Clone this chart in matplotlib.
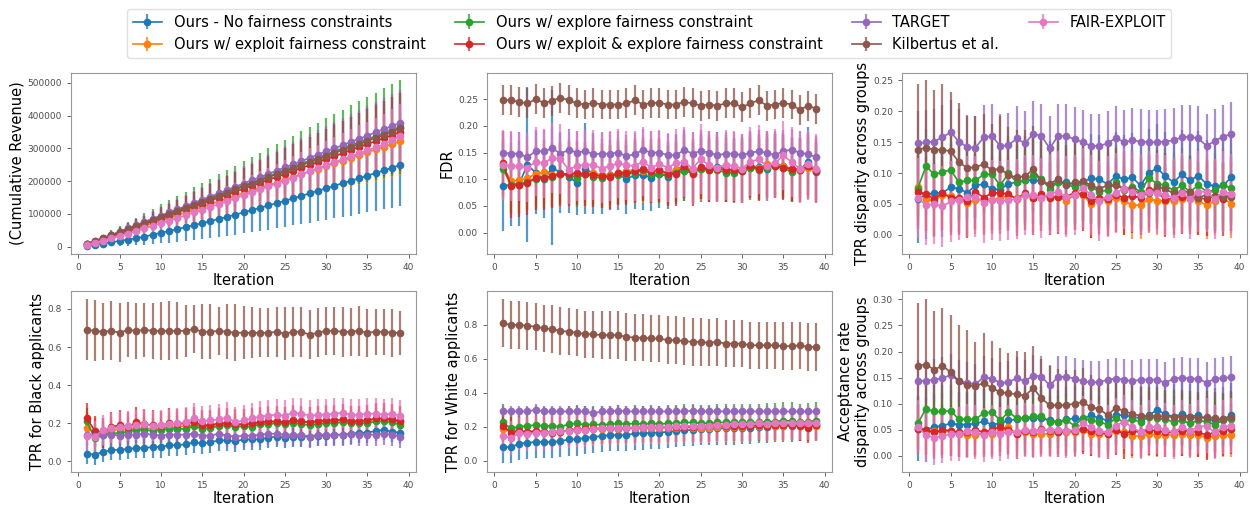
import matplotlib
matplotlib.use('Agg')
import matplotlib.pyplot as plt
import numpy as np

iters = list(range(1, 40))

names = ['Ours - No fairness constraints', 'Ours w/ exploit fairness constraint',
         'Ours w/ explore fairness constraint', 'Ours w/ exploit & explore fairness constraint',
         'TARGET', 'Kilbertus et al.', 'FAIR-EXPLOIT']
colors = ['#1f77b4', '#ff7f0e', '#2ca02c', '#d62728', '#9467bd', '#8c564b', '#e377c2']

# cumulative revenue, in thousands
rev_blue = [2, 6, 10, 14, 18, 22, 26, 31, 37, 43, 48, 54, 60, 66, 72, 78, 85, 91, 98, 105, 112, 119, 126, 133, 140, 148, 155, 163, 171, 178, 186, 194, 201, 209, 217, 225, 233, 241, 250]
rev_orange = [6, 14, 22, 30, 38, 47, 55, 63, 72, 80, 88, 96, 105, 113, 121, 130, 138, 146, 155, 163, 171, 180, 188, 196, 205, 213, 221, 230, 238, 246, 255, 263, 271, 280, 288, 297, 305, 313, 322]
rev_green = [7, 16, 25, 35, 44, 54, 63, 73, 82, 92, 101, 111, 120, 130, 139, 149, 158, 168, 177, 187, 196, 205, 215, 224, 234, 243, 253, 262, 272, 281, 290, 300, 309, 318, 328, 337, 346, 356, 365]
rev_red = [7, 15, 24, 33, 42, 51, 60, 69, 78, 87, 96, 105, 114, 123, 132, 141, 150, 159, 168, 177, 186, 195, 204, 213, 222, 231, 240, 249, 258, 267, 276, 285, 295, 304, 313, 322, 331, 340, 350]
rev_purple = [8, 17, 27, 36, 46, 56, 66, 76, 86, 95, 105, 115, 124, 134, 144, 153, 163, 173, 183, 193, 203, 212, 222, 232, 242, 252, 261, 271, 281, 291, 300, 310, 320, 329, 339, 349, 359, 368, 378]
rev_brown = [9, 18, 27, 36, 45, 55, 64, 73, 82, 92, 101, 110, 119, 128, 138, 147, 156, 165, 175, 184, 193, 202, 212, 221, 230, 239, 249, 258, 267, 276, 286, 295, 304, 313, 323, 332, 341, 351, 362]
rev_pink = [5, 12, 19, 26, 33, 40, 48, 56, 64, 72, 80, 88, 96, 105, 113, 122, 130, 139, 148, 157, 166, 175, 184, 193, 202, 211, 221, 230, 239, 248, 258, 267, 276, 285, 294, 303, 312, 325, 338]

rev_err_blue = [3, 6, 10, 13, 16, 19, 22, 26, 29, 32, 35, 38, 42, 45, 48, 51, 54, 58, 61, 64, 67, 70, 74, 77, 80, 83, 86, 90, 93, 96, 99, 102, 106, 109, 112, 115, 118, 122, 125]
rev_err_orange = [3, 5, 8, 11, 14, 16, 19, 22, 25, 27, 30, 33, 36, 38, 41, 44, 47, 49, 52, 55, 58, 60, 63, 66, 69, 71, 74, 77, 80, 82, 85, 88, 91, 93, 96, 99, 102, 104, 107]
rev_err_green = [4, 7, 11, 15, 18, 22, 26, 30, 33, 37, 41, 44, 48, 52, 55, 59, 63, 67, 70, 74, 78, 81, 85, 89, 92, 96, 100, 104, 107, 111, 115, 118, 122, 126, 129, 133, 137, 140, 143]
rev_err_red = [3, 6, 9, 12, 16, 19, 22, 25, 28, 31, 34, 37, 40, 43, 47, 50, 53, 56, 59, 62, 65, 68, 71, 74, 78, 81, 84, 87, 90, 93, 96, 99, 102, 105, 109, 112, 115, 118, 120]
rev_err_purple = [3, 5, 8, 10, 13, 16, 18, 21, 23, 26, 29, 31, 34, 36, 39, 42, 44, 47, 49, 52, 55, 57, 60, 62, 65, 68, 70, 73, 75, 78, 81, 83, 86, 88, 91, 94, 96, 99, 101]
rev_err_brown = [3, 6, 8, 11, 14, 17, 20, 22, 25, 28, 31, 34, 36, 39, 42, 45, 48, 50, 53, 56, 59, 62, 64, 67, 70, 73, 76, 78, 81, 84, 87, 90, 92, 95, 98, 101, 104, 106, 108]
rev_err_pink = [2, 5, 7, 10, 12, 15, 17, 20, 22, 25, 27, 30, 32, 35, 37, 40, 42, 45, 47, 50, 52, 55, 57, 60, 62, 65, 67, 70, 72, 75, 77, 80, 82, 85, 87, 90, 92, 95, 97]

# FDR
fdr_blue = [0.087, 0.090, 0.092, 0.127, 0.112, 0.100, 0.122, 0.112, 0.105, 0.093, 0.120, 0.110, 0.105, 0.108, 0.110, 0.100, 0.108, 0.108, 0.103, 0.110, 0.105, 0.118, 0.125, 0.115, 0.122, 0.120, 0.123, 0.120, 0.115, 0.118, 0.125, 0.123, 0.120, 0.128, 0.125, 0.118, 0.118, 0.133, 0.113]
fdr_orange = [0.125, 0.097, 0.098, 0.102, 0.110, 0.113, 0.108, 0.110, 0.110, 0.110, 0.110, 0.112, 0.108, 0.108, 0.112, 0.115, 0.118, 0.115, 0.115, 0.115, 0.112, 0.118, 0.123, 0.115, 0.120, 0.120, 0.120, 0.118, 0.118, 0.118, 0.122, 0.122, 0.128, 0.125, 0.125, 0.120, 0.118, 0.122, 0.118]
fdr_green = [0.120, 0.090, 0.090, 0.095, 0.100, 0.102, 0.105, 0.110, 0.108, 0.103, 0.110, 0.105, 0.102, 0.107, 0.108, 0.110, 0.112, 0.117, 0.110, 0.110, 0.108, 0.112, 0.115, 0.112, 0.120, 0.118, 0.118, 0.112, 0.112, 0.115, 0.122, 0.118, 0.122, 0.125, 0.122, 0.113, 0.120, 0.125, 0.115]
fdr_red = [0.130, 0.088, 0.090, 0.093, 0.103, 0.102, 0.107, 0.110, 0.110, 0.112, 0.110, 0.108, 0.106, 0.104, 0.112, 0.112, 0.115, 0.120, 0.115, 0.118, 0.110, 0.110, 0.125, 0.110, 0.123, 0.118, 0.120, 0.118, 0.118, 0.115, 0.125, 0.120, 0.125, 0.125, 0.122, 0.120, 0.118, 0.125, 0.115]
fdr_purple = [0.150, 0.148, 0.148, 0.141, 0.153, 0.152, 0.158, 0.148, 0.155, 0.150, 0.153, 0.147, 0.148, 0.148, 0.150, 0.143, 0.147, 0.155, 0.150, 0.150, 0.145, 0.145, 0.155, 0.148, 0.153, 0.150, 0.145, 0.148, 0.148, 0.145, 0.150, 0.152, 0.150, 0.145, 0.153, 0.155, 0.150, 0.147, 0.141]
fdr_brown = [0.248, 0.248, 0.245, 0.242, 0.250, 0.243, 0.247, 0.253, 0.248, 0.242, 0.240, 0.243, 0.240, 0.240, 0.240, 0.242, 0.248, 0.240, 0.243, 0.243, 0.240, 0.240, 0.245, 0.242, 0.238, 0.240, 0.238, 0.242, 0.242, 0.235, 0.242, 0.248, 0.238, 0.240, 0.243, 0.240, 0.230, 0.238, 0.232]
fdr_pink = [0.127, 0.125, 0.124, 0.122, 0.133, 0.130, 0.140, 0.138, 0.118, 0.125, 0.127, 0.127, 0.120, 0.125, 0.130, 0.126, 0.125, 0.133, 0.122, 0.128, 0.122, 0.130, 0.132, 0.120, 0.138, 0.126, 0.122, 0.127, 0.125, 0.120, 0.133, 0.137, 0.125, 0.130, 0.145, 0.132, 0.120, 0.128, 0.120]
fdr_err_blue = [0.083, 0.077, 0.080, 0.145, 0.078, 0.073, 0.145, 0.075, 0.068, 0.060, 0.085, 0.075, 0.070, 0.065, 0.068, 0.065, 0.063, 0.065, 0.063, 0.063, 0.060, 0.065, 0.065, 0.060, 0.065, 0.063, 0.065, 0.063, 0.060, 0.062, 0.063, 0.062, 0.060, 0.063, 0.062, 0.060, 0.060, 0.065, 0.055]
fdr_err = [None, 0.060, 0.055, 0.060, 0.040, 0.028, 0.065]

# TPR disparity across groups
tprd_blue = [0.058, 0.065, 0.068, 0.068, 0.077, 0.075, 0.068, 0.080, 0.082, 0.075, 0.073, 0.083, 0.085, 0.088, 0.089, 0.087, 0.080, 0.085, 0.085, 0.082, 0.085, 0.092, 0.090, 0.082, 0.095, 0.090, 0.093, 0.080, 0.100, 0.108, 0.095, 0.085, 0.098, 0.088, 0.096, 0.082, 0.079, 0.080, 0.093]
tprd_orange = [0.078, 0.058, 0.055, 0.065, 0.063, 0.058, 0.052, 0.056, 0.058, 0.056, 0.060, 0.063, 0.060, 0.065, 0.060, 0.062, 0.062, 0.062, 0.055, 0.065, 0.065, 0.050, 0.058, 0.055, 0.060, 0.055, 0.048, 0.048, 0.058, 0.055, 0.055, 0.055, 0.058, 0.060, 0.055, 0.048, 0.055, 0.060, 0.050]
tprd_green = [0.075, 0.111, 0.098, 0.102, 0.105, 0.085, 0.088, 0.088, 0.098, 0.098, 0.080, 0.100, 0.085, 0.088, 0.097, 0.090, 0.075, 0.085, 0.082, 0.077, 0.082, 0.078, 0.070, 0.072, 0.085, 0.072, 0.078, 0.070, 0.092, 0.083, 0.080, 0.072, 0.080, 0.070, 0.080, 0.070, 0.072, 0.080, 0.076]
tprd_red = [0.070, 0.066, 0.058, 0.068, 0.060, 0.060, 0.055, 0.070, 0.060, 0.068, 0.068, 0.066, 0.058, 0.068, 0.059, 0.066, 0.060, 0.062, 0.062, 0.068, 0.066, 0.055, 0.060, 0.058, 0.065, 0.060, 0.063, 0.060, 0.072, 0.070, 0.056, 0.060, 0.062, 0.062, 0.060, 0.058, 0.063, 0.058, 0.066]
tprd_purple = [0.148, 0.150, 0.151, 0.158, 0.166, 0.151, 0.142, 0.141, 0.158, 0.160, 0.144, 0.145, 0.156, 0.148, 0.164, 0.160, 0.140, 0.160, 0.160, 0.155, 0.150, 0.144, 0.144, 0.148, 0.157, 0.150, 0.153, 0.151, 0.150, 0.150, 0.151, 0.153, 0.158, 0.159, 0.156, 0.144, 0.152, 0.159, 0.163]
tprd_brown = [0.138, 0.141, 0.138, 0.138, 0.135, 0.118, 0.108, 0.110, 0.114, 0.105, 0.107, 0.097, 0.093, 0.095, 0.106, 0.087, 0.082, 0.091, 0.080, 0.085, 0.087, 0.080, 0.075, 0.080, 0.080, 0.075, 0.075, 0.065, 0.067, 0.078, 0.074, 0.067, 0.070, 0.070, 0.060, 0.065, 0.062, 0.062, 0.062]
tprd_pink = [0.060, 0.048, 0.050, 0.046, 0.054, 0.056, 0.062, 0.062, 0.052, 0.056, 0.055, 0.056, 0.058, 0.064, 0.064, 0.060, 0.066, 0.070, 0.062, 0.065, 0.076, 0.065, 0.055, 0.062, 0.068, 0.075, 0.070, 0.065, 0.070, 0.068, 0.065, 0.060, 0.068, 0.058, 0.070, 0.070, 0.058, 0.070, 0.066]
tprd_err_brown = [0.107, 0.109, 0.096, 0.106, 0.097, 0.095, 0.085, 0.082, 0.081, 0.075, 0.085, 0.078, 0.076, 0.075, 0.070, 0.070, 0.065, 0.068, 0.065, 0.065, 0.065, 0.062, 0.062, 0.062, 0.060, 0.060, 0.060, 0.060, 0.060, 0.060, 0.058, 0.058, 0.058, 0.058, 0.056, 0.056, 0.056, 0.055, 0.055]
tprd_err = [0.072, 0.055, 0.060, 0.060, 0.052, None, 0.065]

# TPR for Black applicants
tprb_blue = [0.040, 0.035, 0.050, 0.060, 0.060, 0.065, 0.070, 0.070, 0.075, 0.075, 0.085, 0.085, 0.090, 0.100, 0.095, 0.100, 0.110, 0.110, 0.105, 0.115, 0.115, 0.115, 0.125, 0.130, 0.125, 0.130, 0.130, 0.130, 0.135, 0.135, 0.140, 0.140, 0.145, 0.150, 0.150, 0.160, 0.165, 0.155, 0.150]
tprb_orange = [0.175, 0.150, 0.150, 0.160, 0.170, 0.165, 0.175, 0.175, 0.170, 0.175, 0.180, 0.180, 0.185, 0.190, 0.185, 0.185, 0.190, 0.195, 0.190, 0.195, 0.195, 0.200, 0.205, 0.205, 0.205, 0.210, 0.205, 0.205, 0.210, 0.210, 0.210, 0.215, 0.210, 0.210, 0.215, 0.220, 0.225, 0.215, 0.210]
tprb_green = [0.210, 0.120, 0.140, 0.145, 0.150, 0.155, 0.165, 0.165, 0.160, 0.165, 0.170, 0.170, 0.170, 0.185, 0.170, 0.175, 0.185, 0.190, 0.180, 0.185, 0.180, 0.195, 0.195, 0.200, 0.195, 0.200, 0.195, 0.190, 0.195, 0.200, 0.200, 0.205, 0.200, 0.200, 0.200, 0.210, 0.210, 0.205, 0.190]
tprb_red = [0.225, 0.160, 0.150, 0.180, 0.190, 0.180, 0.205, 0.195, 0.190, 0.185, 0.200, 0.195, 0.200, 0.205, 0.190, 0.190, 0.200, 0.200, 0.195, 0.195, 0.200, 0.205, 0.210, 0.210, 0.205, 0.215, 0.210, 0.205, 0.210, 0.215, 0.215, 0.220, 0.210, 0.210, 0.215, 0.225, 0.225, 0.220, 0.210]
tprb_purple = [0.140, 0.135, 0.140, 0.140, 0.135, 0.140, 0.140, 0.145, 0.140, 0.135, 0.140, 0.140, 0.140, 0.145, 0.135, 0.135, 0.145, 0.135, 0.130, 0.135, 0.135, 0.140, 0.145, 0.145, 0.140, 0.140, 0.140, 0.130, 0.140, 0.140, 0.140, 0.140, 0.145, 0.140, 0.140, 0.140, 0.145, 0.140, 0.130]
tprb_brown = [0.690, 0.685, 0.680, 0.685, 0.675, 0.690, 0.685, 0.690, 0.685, 0.685, 0.685, 0.685, 0.685, 0.695, 0.680, 0.680, 0.685, 0.680, 0.675, 0.675, 0.675, 0.675, 0.675, 0.680, 0.670, 0.680, 0.680, 0.665, 0.675, 0.685, 0.685, 0.680, 0.680, 0.685, 0.675, 0.680, 0.680, 0.675, 0.675]
tprb_pink = [0.135, 0.130, 0.165, 0.175, 0.178, 0.185, 0.190, 0.195, 0.185, 0.190, 0.195, 0.200, 0.205, 0.225, 0.210, 0.215, 0.220, 0.230, 0.205, 0.215, 0.225, 0.235, 0.240, 0.245, 0.240, 0.255, 0.250, 0.240, 0.245, 0.245, 0.250, 0.255, 0.245, 0.245, 0.250, 0.250, 0.245, 0.250, 0.240]
tprb_err_brown = [0.160, 0.160, 0.150, 0.155, 0.155, 0.145, 0.148, 0.140, 0.148, 0.152, 0.155, 0.150, 0.135, 0.125, 0.145, 0.145, 0.125, 0.145, 0.150, 0.140, 0.135, 0.130, 0.130, 0.130, 0.140, 0.130, 0.130, 0.130, 0.130, 0.125, 0.125, 0.130, 0.125, 0.130, 0.125, 0.120, 0.120, 0.125, 0.115]
tprb_err = [0.055, 0.080, 0.070, 0.080, 0.060, None, 0.080]

# TPR for White applicants
tprw_blue = [0.080, 0.080, 0.100, 0.105, 0.110, 0.110, 0.110, 0.115, 0.125, 0.125, 0.135, 0.140, 0.145, 0.150, 0.150, 0.150, 0.160, 0.160, 0.165, 0.165, 0.170, 0.175, 0.180, 0.180, 0.185, 0.185, 0.190, 0.190, 0.190, 0.195, 0.195, 0.200, 0.200, 0.205, 0.205, 0.205, 0.210, 0.210, 0.210]
tprw_orange = [0.185, 0.180, 0.175, 0.165, 0.170, 0.170, 0.170, 0.175, 0.175, 0.180, 0.180, 0.185, 0.185, 0.190, 0.185, 0.190, 0.195, 0.195, 0.195, 0.195, 0.195, 0.195, 0.200, 0.195, 0.195, 0.195, 0.200, 0.200, 0.200, 0.200, 0.205, 0.205, 0.205, 0.205, 0.205, 0.210, 0.205, 0.205, 0.205]
tprw_green = [0.225, 0.190, 0.200, 0.205, 0.210, 0.205, 0.205, 0.200, 0.215, 0.220, 0.210, 0.215, 0.210, 0.215, 0.220, 0.215, 0.220, 0.215, 0.220, 0.215, 0.220, 0.220, 0.225, 0.225, 0.220, 0.220, 0.225, 0.225, 0.225, 0.225, 0.225, 0.225, 0.230, 0.230, 0.235, 0.235, 0.225, 0.230, 0.235]
tprw_red = [0.205, 0.165, 0.175, 0.170, 0.175, 0.170, 0.165, 0.170, 0.180, 0.185, 0.185, 0.190, 0.190, 0.190, 0.195, 0.195, 0.195, 0.200, 0.200, 0.200, 0.200, 0.200, 0.200, 0.200, 0.205, 0.205, 0.210, 0.205, 0.205, 0.205, 0.205, 0.210, 0.205, 0.210, 0.210, 0.210, 0.205, 0.195, 0.210]
tprw_purple = [0.290, 0.290, 0.290, 0.290, 0.300, 0.290, 0.290, 0.290, 0.290, 0.290, 0.290, 0.280, 0.290, 0.290, 0.295, 0.290, 0.290, 0.290, 0.290, 0.290, 0.290, 0.290, 0.290, 0.295, 0.290, 0.290, 0.290, 0.290, 0.290, 0.290, 0.290, 0.290, 0.290, 0.290, 0.290, 0.290, 0.290, 0.290, 0.290]
tprw_brown = [0.810, 0.800, 0.800, 0.795, 0.790, 0.780, 0.775, 0.765, 0.760, 0.755, 0.745, 0.745, 0.740, 0.740, 0.740, 0.730, 0.725, 0.725, 0.720, 0.720, 0.710, 0.710, 0.705, 0.700, 0.700, 0.695, 0.700, 0.690, 0.690, 0.690, 0.680, 0.680, 0.680, 0.680, 0.675, 0.675, 0.680, 0.670, 0.670]
tprw_pink = [0.145, 0.135, 0.160, 0.155, 0.165, 0.165, 0.170, 0.175, 0.175, 0.180, 0.180, 0.185, 0.190, 0.190, 0.195, 0.195, 0.195, 0.200, 0.200, 0.200, 0.200, 0.205, 0.205, 0.205, 0.205, 0.205, 0.210, 0.210, 0.215, 0.215, 0.215, 0.220, 0.215, 0.220, 0.220, 0.220, 0.220, 0.220, 0.220]
tprw_err = [0.095, 0.090, 0.110, 0.090, 0.035, 0.140, 0.100]

# Acceptance rate disparity across groups
acc_blue = [0.052, 0.050, 0.055, 0.058, 0.062, 0.060, 0.060, 0.062, 0.066, 0.060, 0.062, 0.068, 0.070, 0.072, 0.072, 0.072, 0.068, 0.065, 0.070, 0.072, 0.070, 0.078, 0.072, 0.068, 0.078, 0.078, 0.075, 0.072, 0.078, 0.088, 0.080, 0.075, 0.080, 0.075, 0.078, 0.070, 0.068, 0.070, 0.078]
acc_orange = [0.055, 0.045, 0.048, 0.045, 0.048, 0.042, 0.040, 0.040, 0.042, 0.042, 0.045, 0.055, 0.042, 0.045, 0.042, 0.042, 0.042, 0.045, 0.045, 0.045, 0.050, 0.042, 0.042, 0.042, 0.048, 0.045, 0.038, 0.038, 0.042, 0.040, 0.040, 0.040, 0.042, 0.040, 0.040, 0.035, 0.038, 0.040, 0.040]
acc_green = [0.062, 0.090, 0.085, 0.085, 0.086, 0.070, 0.070, 0.070, 0.082, 0.084, 0.068, 0.084, 0.072, 0.072, 0.076, 0.076, 0.065, 0.065, 0.068, 0.058, 0.072, 0.068, 0.065, 0.060, 0.072, 0.065, 0.070, 0.065, 0.075, 0.072, 0.070, 0.065, 0.068, 0.062, 0.068, 0.065, 0.060, 0.068, 0.070]
acc_red = [0.052, 0.050, 0.045, 0.050, 0.048, 0.045, 0.045, 0.050, 0.045, 0.050, 0.056, 0.050, 0.042, 0.048, 0.045, 0.052, 0.048, 0.045, 0.048, 0.048, 0.052, 0.048, 0.045, 0.042, 0.050, 0.042, 0.048, 0.045, 0.050, 0.048, 0.045, 0.045, 0.048, 0.048, 0.045, 0.040, 0.045, 0.048, 0.052]
acc_purple = [0.143, 0.144, 0.146, 0.149, 0.155, 0.143, 0.140, 0.137, 0.151, 0.148, 0.140, 0.141, 0.149, 0.143, 0.154, 0.152, 0.135, 0.151, 0.152, 0.148, 0.143, 0.141, 0.141, 0.146, 0.148, 0.146, 0.143, 0.146, 0.146, 0.146, 0.140, 0.148, 0.150, 0.148, 0.148, 0.140, 0.148, 0.149, 0.151]
acc_brown = [0.173, 0.175, 0.165, 0.173, 0.160, 0.143, 0.135, 0.133, 0.140, 0.130, 0.122, 0.120, 0.118, 0.115, 0.130, 0.110, 0.097, 0.097, 0.097, 0.100, 0.103, 0.093, 0.090, 0.078, 0.092, 0.086, 0.080, 0.077, 0.076, 0.077, 0.075, 0.075, 0.075, 0.075, 0.072, 0.075, 0.072, 0.070, 0.075]
acc_pink = [0.055, 0.040, 0.035, 0.038, 0.042, 0.042, 0.048, 0.045, 0.040, 0.046, 0.042, 0.046, 0.046, 0.050, 0.048, 0.050, 0.050, 0.050, 0.048, 0.050, 0.062, 0.055, 0.048, 0.045, 0.058, 0.065, 0.055, 0.045, 0.055, 0.055, 0.050, 0.045, 0.055, 0.048, 0.055, 0.058, 0.045, 0.055, 0.058]
acc_err_brown = [0.120, 0.125, 0.113, 0.110, 0.110, 0.108, 0.107, 0.085, 0.095, 0.090, 0.085, 0.078, 0.083, 0.085, 0.080, 0.075, 0.075, 0.070, 0.068, 0.065, 0.065, 0.062, 0.060, 0.060, 0.058, 0.058, 0.056, 0.055, 0.055, 0.055, 0.052, 0.052, 0.052, 0.050, 0.050, 0.050, 0.050, 0.050, 0.050]
acc_err = [0.062, 0.042, 0.050, 0.048, 0.040, None, 0.052]

k = 1000
panels = [
    dict(ylabel='(Cumulative Revenue)', ylim=(-22000, 530000),
         ys=[np.array(v) * k for v in [rev_blue, rev_orange, rev_green, rev_red, rev_purple, rev_brown, rev_pink]],
         errs=[np.array(v) * k for v in [rev_err_blue, rev_err_orange, rev_err_green, rev_err_red, rev_err_purple, rev_err_brown, rev_err_pink]],
         yticks=[0, 100000, 200000, 300000, 400000, 500000]),
    dict(ylabel='FDR', ylim=(-0.04, 0.299),
         ys=[fdr_blue, fdr_orange, fdr_green, fdr_red, fdr_purple, fdr_brown, fdr_pink],
         errs=[fdr_err_blue] + fdr_err[1:],
         yticks=[0.0, 0.05, 0.10, 0.15, 0.20, 0.25]),
    dict(ylabel='TPR disparity across groups', ylim=(-0.031, 0.262),
         ys=[tprd_blue, tprd_orange, tprd_green, tprd_red, tprd_purple, tprd_brown, tprd_pink],
         errs=tprd_err[:5] + [tprd_err_brown] + tprd_err[6:],
         yticks=[0.0, 0.05, 0.10, 0.15, 0.20, 0.25]),
    dict(ylabel='TPR for Black applicants', ylim=(-0.056, 0.894),
         ys=[tprb_blue, tprb_orange, tprb_green, tprb_red, tprb_purple, tprb_brown, tprb_pink],
         errs=tprb_err[:5] + [tprb_err_brown] + tprb_err[6:],
         yticks=[0.0, 0.2, 0.4, 0.6, 0.8]),
    dict(ylabel='TPR for White applicants', ylim=(-0.067, 1.0),
         ys=[tprw_blue, tprw_orange, tprw_green, tprw_red, tprw_purple, tprw_brown, tprw_pink],
         errs=tprw_err,
         yticks=[0.0, 0.2, 0.4, 0.6, 0.8]),
    dict(ylabel='Acceptance rate\ndisparity across groups', ylim=(-0.031, 0.316),
         ys=[acc_blue, acc_orange, acc_green, acc_red, acc_purple, acc_brown, acc_pink],
         errs=acc_err[:5] + [acc_err_brown] + acc_err[6:],
         yticks=[0.0, 0.05, 0.10, 0.15, 0.20, 0.25, 0.30]),
]

W, H = 1251, 508
lefts = [71, 487, 902]
rows = [(73, 254), (291, 472)]
aw = 345

fig = plt.figure(figsize=(W / 100, H / 100), dpi=100)
handles = []
for i, p in enumerate(panels):
    r, c = divmod(i, 3)
    top, bot = rows[r]
    ax = fig.add_axes([lefts[c] / W, 1 - bot / H, aw / W, (bot - top) / H])
    for j in range(7):
        eb = ax.errorbar(iters, p['ys'][j], yerr=p['errs'][j], color=colors[j], marker='o',
                         markersize=4.5, linewidth=1.2, elinewidth=1.6, label=names[j])
        for col in eb[2]:
            col.set_alpha(0.75)
        if i == 0:
            handles.append(eb)
    ax.set_ylim(*p['ylim'])
    ax.set_xlim(-0.9, 40.9)
    ax.set_yticks(p['yticks'])
    ax.set_xticks([0, 5, 10, 15, 20, 25, 30, 35, 40])
    if i == 0:
        ax.set_yticklabels([str(t) for t in p['yticks']])
    else:
        ax.set_yticklabels(['%.2f' % t if i != 3 and i != 4 else '%.1f' % t for t in p['yticks']])
    ax.tick_params(labelsize=6.5, colors='0.3', length=3, width=0.6)
    for s in ax.spines.values():
        s.set_color('0.6')
        s.set_linewidth(0.8)
    ax.set_xlabel('Iteration', fontsize=10.5, labelpad=1)
    ax.set_ylabel(p['ylabel'], fontsize=10.5, labelpad=2)

fig.legend(handles, names, loc='upper center', bbox_to_anchor=(0.519, 0.997), ncol=4,
           fontsize=10.5, frameon=True, edgecolor='0.85', handlelength=2, columnspacing=2.0)

fig.savefig('out.png', dpi=100)
